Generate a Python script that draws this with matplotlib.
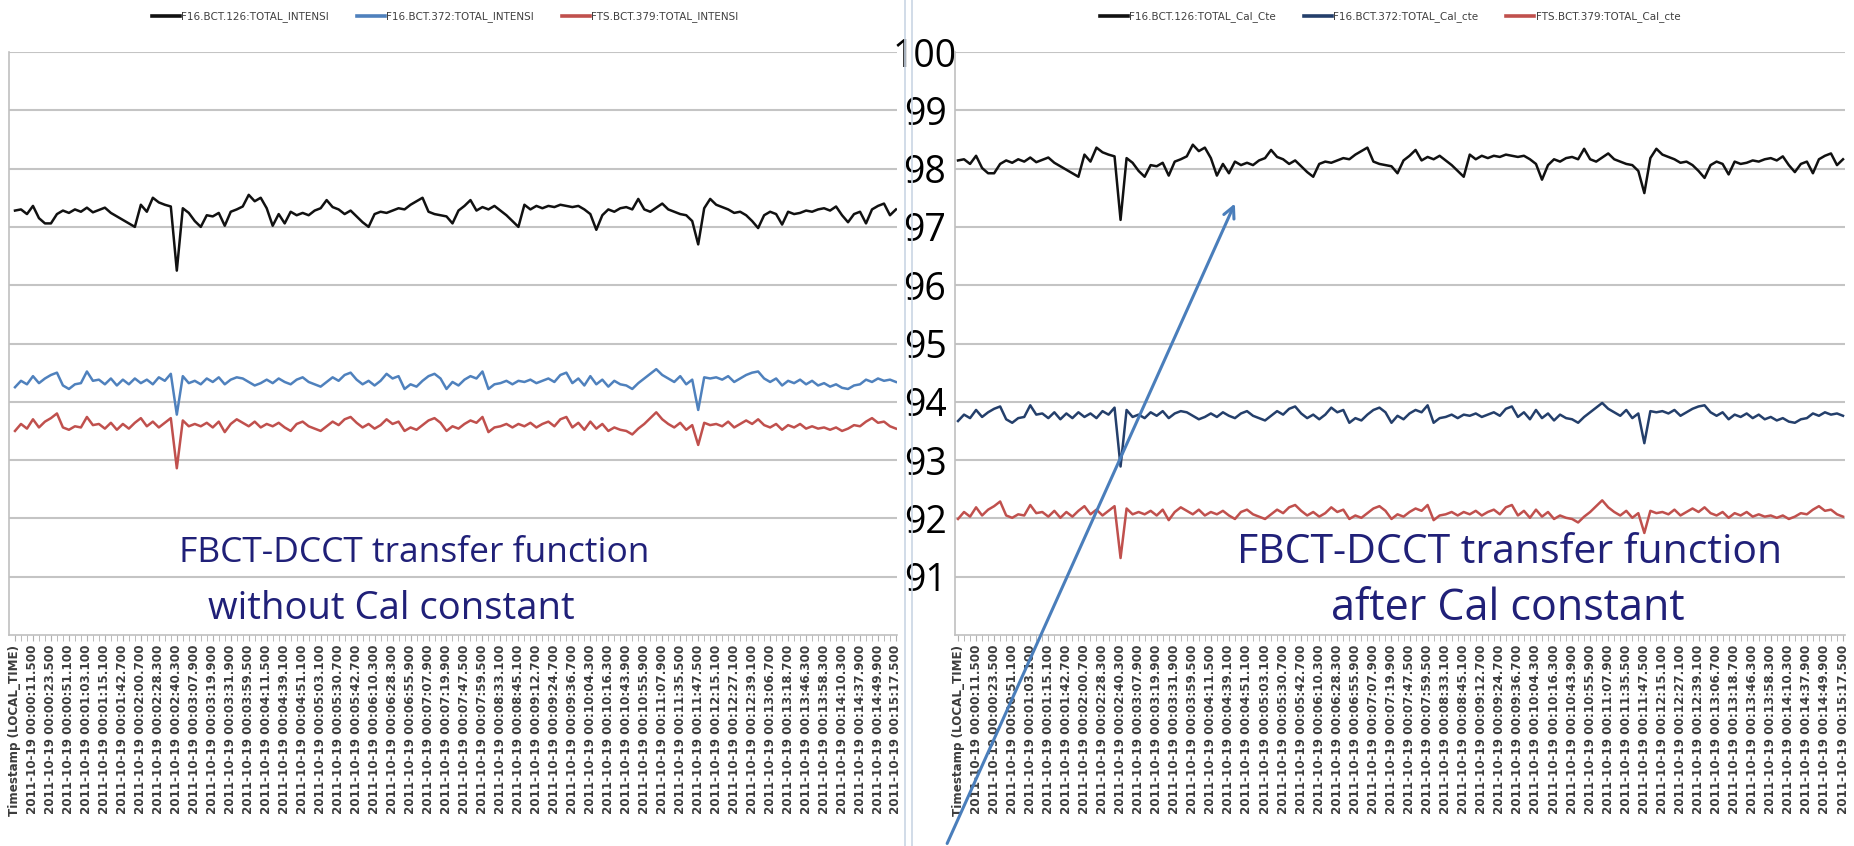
import matplotlib
matplotlib.use("Agg")
import matplotlib.pyplot as plt
from matplotlib.lines import Line2D
from matplotlib.patches import FancyArrowPatch

# ---- data ----
times = ["00:00:11.5", "00:00:23.5", "00:00:51.1", "00:01:03.1", "00:01:15.1", "00:01:42.7",
         "00:02:00.7", "00:02:28.3", "00:02:40.3", "00:03:07.9", "00:03:19.9", "00:03:31.9",
         "00:03:59.5", "00:04:11.5", "00:04:39.1", "00:04:51.1", "00:05:03.1", "00:05:30.7",
         "00:05:42.7", "00:06:10.3", "00:06:28.3", "00:06:55.9", "00:07:07.9", "00:07:19.9",
         "00:07:47.5", "00:07:59.5", "00:08:33.1", "00:08:45.1", "00:09:12.7", "00:09:24.7",
         "00:09:36.7", "00:10:04.3", "00:10:16.3", "00:10:43.9", "00:10:55.9", "00:11:07.9",
         "00:11:35.5", "00:11:47.5", "00:12:15.1", "00:12:27.1", "00:12:39.1", "00:13:06.7",
         "00:13:18.7", "00:13:46.3", "00:13:58.3", "00:14:10.3", "00:14:37.9", "00:14:49.9",
         "00:15:17.5"]
tick_labels = ["Timestamp (LOCAL_TIME)"] + ["2011-10-19 " + t + "00" for t in times]
label_step = 3

left_names = ["F16.BCT.126:TOTAL_INTENSI", "F16.BCT.372:TOTAL_INTENSI", "FTS.BCT.379:TOTAL_INTENSI"]
right_names = ["F16.BCT.126:TOTAL_Cal_Cte", "F16.BCT.372:TOTAL_Cal_cte", "FTS.BCT.379:TOTAL_Cal_cte"]

left_black = [97.28, 97.30, 97.22, 97.36, 97.15, 97.06, 97.06, 97.22, 97.28, 97.24,
              97.30, 97.26, 97.33, 97.25, 97.29, 97.33, 97.24, 97.18, 97.12, 97.06,
              97.00, 97.38, 97.26, 97.50, 97.42, 97.38, 97.35, 96.25, 97.32, 97.24,
              97.10, 97.00, 97.20, 97.18, 97.24, 97.02, 97.26, 97.30, 97.35, 97.55,
              97.44, 97.50, 97.32, 97.02, 97.22, 97.06, 97.26, 97.20, 97.24, 97.20,
              97.28, 97.32, 97.46, 97.34, 97.30, 97.22, 97.28, 97.18, 97.08, 97.00,
              97.22, 97.26, 97.24, 97.28, 97.32, 97.30, 97.38, 97.44, 97.50, 97.26,
              97.22, 97.20, 97.18, 97.06, 97.28, 97.36, 97.46, 97.28, 97.34, 97.30,
              97.36, 97.28, 97.20, 97.10, 97.00, 97.38, 97.30, 97.36, 97.32, 97.36,
              97.34, 97.38, 97.36, 97.34, 97.36, 97.30, 97.22, 96.95, 97.20, 97.30,
              97.26, 97.32, 97.34, 97.30, 97.48, 97.30, 97.26, 97.33, 97.40, 97.30,
              97.26, 97.22, 97.20, 97.10, 96.70, 97.32, 97.48, 97.38, 97.34, 97.30,
              97.24, 97.26, 97.20, 97.10, 96.98, 97.20, 97.26, 97.22, 97.04, 97.26,
              97.22, 97.24, 97.28, 97.26, 97.30, 97.32, 97.28, 97.35, 97.20, 97.08,
              97.22, 97.26, 97.06, 97.30, 97.36, 97.40, 97.20, 97.30]

left_blue = [94.25, 94.36, 94.30, 94.44, 94.32, 94.40, 94.46, 94.50, 94.28, 94.22,
             94.30, 94.32, 94.52, 94.36, 94.38, 94.30, 94.40, 94.28, 94.38, 94.30,
             94.40, 94.32, 94.38, 94.30, 94.42, 94.36, 94.48, 93.78, 94.44, 94.32,
             94.36, 94.30, 94.40, 94.34, 94.42, 94.30, 94.38, 94.42, 94.40, 94.34,
             94.28, 94.32, 94.38, 94.32, 94.40, 94.34, 94.30, 94.38, 94.42, 94.34,
             94.30, 94.26, 94.34, 94.42, 94.36, 94.46, 94.50, 94.38, 94.30, 94.36,
             94.28, 94.36, 94.48, 94.40, 94.44, 94.22, 94.30, 94.26, 94.36, 94.44,
             94.48, 94.40, 94.22, 94.34, 94.28, 94.38, 94.44, 94.40, 94.52, 94.22,
             94.30, 94.32, 94.36, 94.30, 94.36, 94.34, 94.38, 94.32, 94.36, 94.40,
             94.34, 94.46, 94.50, 94.32, 94.40, 94.28, 94.44, 94.30, 94.38, 94.26,
             94.36, 94.30, 94.28, 94.22, 94.32, 94.40, 94.48, 94.56, 94.46, 94.40,
             94.34, 94.44, 94.30, 94.38, 93.86, 94.42, 94.40, 94.42, 94.38, 94.44,
             94.34, 94.40, 94.46, 94.50, 94.52, 94.40, 94.34, 94.40, 94.28, 94.36,
             94.32, 94.38, 94.30, 94.36, 94.28, 94.32, 94.26, 94.30, 94.24, 94.22,
             94.28, 94.30, 94.38, 94.34, 94.40, 94.36, 94.38, 94.34]

left_red = [93.50, 93.62, 93.54, 93.70, 93.56, 93.66, 93.72, 93.80, 93.56, 93.52,
            93.58, 93.56, 93.74, 93.60, 93.62, 93.54, 93.64, 93.52, 93.62, 93.54,
            93.64, 93.72, 93.58, 93.66, 93.56, 93.64, 93.72, 92.86, 93.68, 93.58,
            93.62, 93.58, 93.64, 93.56, 93.66, 93.48, 93.62, 93.70, 93.64, 93.58,
            93.66, 93.56, 93.62, 93.58, 93.64, 93.56, 93.50, 93.62, 93.66, 93.58,
            93.54, 93.50, 93.58, 93.66, 93.60, 93.70, 93.74, 93.64, 93.56, 93.62,
            93.54, 93.60, 93.70, 93.62, 93.66, 93.50, 93.56, 93.52, 93.60, 93.68,
            93.72, 93.64, 93.50, 93.58, 93.54, 93.62, 93.68, 93.64, 93.74, 93.48,
            93.56, 93.58, 93.62, 93.56, 93.62, 93.58, 93.64, 93.56, 93.62, 93.66,
            93.58, 93.70, 93.74, 93.56, 93.64, 93.52, 93.66, 93.54, 93.62, 93.50,
            93.56, 93.52, 93.50, 93.44, 93.54, 93.62, 93.72, 93.82, 93.70, 93.62,
            93.56, 93.64, 93.52, 93.60, 93.26, 93.64, 93.60, 93.62, 93.58, 93.66,
            93.56, 93.62, 93.68, 93.62, 93.70, 93.60, 93.56, 93.62, 93.52, 93.60,
            93.56, 93.62, 93.54, 93.58, 93.54, 93.56, 93.52, 93.56, 93.50, 93.54,
            93.60, 93.58, 93.66, 93.72, 93.64, 93.66, 93.58, 93.54]

right_black = [98.14, 98.16, 98.08, 98.22, 98.01, 97.92, 97.92, 98.08, 98.14, 98.10,
               98.16, 98.12, 98.19, 98.11, 98.15, 98.19, 98.10, 98.04, 97.98, 97.92,
               97.86, 98.24, 98.12, 98.36, 98.28, 98.24, 98.21, 97.12, 98.18, 98.10,
               97.96, 97.86, 98.06, 98.04, 98.10, 97.88, 98.12, 98.16, 98.21, 98.41,
               98.30, 98.36, 98.18, 97.88, 98.08, 97.92, 98.12, 98.06, 98.10, 98.06,
               98.14, 98.18, 98.32, 98.20, 98.16, 98.08, 98.14, 98.04, 97.94, 97.86,
               98.08, 98.12, 98.10, 98.14, 98.18, 98.16, 98.24, 98.30, 98.36, 98.12,
               98.08, 98.06, 98.04, 97.92, 98.14, 98.22, 98.32, 98.14, 98.20, 98.16,
               98.22, 98.14, 98.06, 97.96, 97.86, 98.24, 98.16, 98.22, 98.18, 98.22,
               98.20, 98.24, 98.22, 98.20, 98.22, 98.16, 98.08, 97.81, 98.06, 98.16,
               98.12, 98.18, 98.20, 98.16, 98.34, 98.16, 98.12, 98.19, 98.26, 98.16,
               98.12, 98.08, 98.06, 97.96, 97.58, 98.18, 98.34, 98.24, 98.20, 98.16,
               98.10, 98.12, 98.06, 97.96, 97.84, 98.06, 98.12, 98.08, 97.90, 98.12,
               98.08, 98.10, 98.14, 98.12, 98.16, 98.18, 98.14, 98.21, 98.06, 97.94,
               98.08, 98.12, 97.92, 98.16, 98.22, 98.26, 98.06, 98.16]

right_blue = [93.67, 93.78, 93.72, 93.86, 93.74, 93.82, 93.88, 93.92, 93.70, 93.64,
              93.72, 93.74, 93.94, 93.78, 93.80, 93.72, 93.82, 93.70, 93.80, 93.72,
              93.82, 93.74, 93.80, 93.72, 93.84, 93.78, 93.90, 92.89, 93.86, 93.74,
              93.78, 93.72, 93.82, 93.76, 93.84, 93.72, 93.80, 93.84, 93.82, 93.76,
              93.70, 93.74, 93.80, 93.74, 93.82, 93.76, 93.72, 93.80, 93.84, 93.76,
              93.72, 93.68, 93.76, 93.84, 93.78, 93.88, 93.92, 93.80, 93.72, 93.78,
              93.70, 93.78, 93.90, 93.82, 93.86, 93.64, 93.72, 93.68, 93.78, 93.86,
              93.90, 93.82, 93.64, 93.76, 93.70, 93.80, 93.86, 93.82, 93.94, 93.64,
              93.72, 93.74, 93.78, 93.72, 93.78, 93.76, 93.80, 93.74, 93.78, 93.82,
              93.76, 93.88, 93.92, 93.74, 93.82, 93.70, 93.86, 93.72, 93.80, 93.68,
              93.78, 93.72, 93.70, 93.64, 93.74, 93.82, 93.90, 93.98, 93.88, 93.82,
              93.76, 93.86, 93.72, 93.80, 93.29, 93.84, 93.82, 93.84, 93.80, 93.86,
              93.76, 93.82, 93.88, 93.92, 93.94, 93.82, 93.76, 93.82, 93.70, 93.78,
              93.74, 93.80, 93.72, 93.78, 93.70, 93.74, 93.68, 93.72, 93.66, 93.64,
              93.70, 93.72, 93.80, 93.76, 93.82, 93.78, 93.80, 93.76]

right_red = [91.99, 92.11, 92.03, 92.19, 92.05, 92.15, 92.21, 92.29, 92.05, 92.01,
             92.07, 92.05, 92.23, 92.09, 92.11, 92.03, 92.13, 92.01, 92.11, 92.03,
             92.13, 92.21, 92.07, 92.15, 92.05, 92.13, 92.21, 91.32, 92.17, 92.07,
             92.11, 92.07, 92.13, 92.05, 92.15, 91.97, 92.11, 92.19, 92.13, 92.07,
             92.15, 92.05, 92.11, 92.07, 92.13, 92.05, 91.99, 92.11, 92.15, 92.07,
             92.03, 91.99, 92.07, 92.15, 92.09, 92.19, 92.23, 92.13, 92.05, 92.11,
             92.03, 92.09, 92.19, 92.11, 92.15, 91.99, 92.05, 92.01, 92.09, 92.17,
             92.21, 92.13, 91.99, 92.07, 92.03, 92.11, 92.17, 92.13, 92.23, 91.97,
             92.05, 92.07, 92.11, 92.05, 92.11, 92.07, 92.13, 92.05, 92.11, 92.15,
             92.07, 92.19, 92.23, 92.05, 92.13, 92.01, 92.15, 92.03, 92.11, 91.99,
             92.05, 92.01, 91.99, 91.93, 92.03, 92.11, 92.21, 92.31, 92.19, 92.11,
             92.05, 92.13, 92.01, 92.09, 91.75, 92.13, 92.09, 92.11, 92.07, 92.15,
             92.05, 92.11, 92.17, 92.11, 92.19, 92.09, 92.05, 92.11, 92.01, 92.09,
             92.05, 92.11, 92.03, 92.07, 92.03, 92.05, 92.01, 92.05, 91.99, 92.03,
             92.09, 92.07, 92.15, 92.21, 92.13, 92.15, 92.07, 92.03]

y_ticks = list(range(91, 101))

W, H = 1854, 846
fig = plt.figure(figsize=(W / 100, H / 100), dpi=100)
fig.patch.set_facecolor("white")


def px_axes(x0, x1, y0, y1):
    # axes from pixel box (top-left origin)
    return fig.add_axes([x0 / W, 1 - y1 / H, (x1 - x0) / W, (y1 - y0) / H])


def style_axes(ax, xlim):
    n = len(left_black)
    ax.set_xlim(*xlim)
    ax.set_ylim(90, 100)
    ax.set_yticks(y_ticks)
    ax.yaxis.grid(True, color="#c4c4c4", lw=1.5)
    ax.set_axisbelow(True)
    for s in ["top", "right"]:
        ax.spines[s].set_visible(False)
    for s in ["left", "bottom"]:
        ax.spines[s].set_color("#c0c0c0")
        ax.spines[s].set_linewidth(1.2)
    idx = list(range(0, n, label_step))
    ax.set_xticks(idx)
    ax.set_xticklabels(tick_labels, rotation=90, fontsize=8.6, fontweight="bold",
                       color="#3c3c3c")
    ax.set_xticks(range(n), minor=True)
    ax.tick_params(axis="x", which="both", length=4, color="#b0b0b0", pad=3)


x = list(range(len(left_black)))
leg_kw = dict(loc="center", ncol=3, frameon=False, fontsize=7.5, handlelength=2.7,
              handletextpad=0.1, columnspacing=2.7, labelcolor="#404040")

# left chart: without calibration constant
ax1 = px_axes(9, 897, 52, 635)
style_axes(ax1, (-1.0, 147.17))
ax1.tick_params(axis="y", length=0, labelleft=False)
h1 = ax1.plot(x, left_black, color="#111111", lw=1.8)[0]
h2 = ax1.plot(x, left_blue, color="#4f81bd", lw=1.8)[0]
h3 = ax1.plot(x, left_red, color="#c0504d", lw=1.8)[0]
leg = ax1.legend([h1, h2, h3], left_names, bbox_to_anchor=(445 / W, 1 - 17 / H),
                 bbox_transform=fig.transFigure, **leg_kw)
for ln in leg.get_lines():
    ln.set_linewidth(2.6)

# right chart: after calibration constant
ax2 = px_axes(955, 1845, 52, 635)
style_axes(ax2, (-0.5, 147.33))
ax2.set_yticklabels([str(v) for v in y_ticks], fontsize=27, family="Open Sans")
ax2.tick_params(axis="y", length=0, pad=21.6)
for lab in ax2.get_yticklabels():
    lab.set_horizontalalignment("center")
g1 = ax2.plot(x, right_black, color="#111111", lw=1.8)[0]
g2 = ax2.plot(x, right_blue, color="#243f6b", lw=1.8)[0]
g3 = ax2.plot(x, right_red, color="#c0504d", lw=1.8)[0]
leg = ax2.legend([g1, g2, g3], right_names, bbox_to_anchor=(1390 / W, 1 - 17 / H),
                 bbox_transform=fig.transFigure, **leg_kw)
for ln in leg.get_lines():
    ln.set_linewidth(2.6)

# separators between the two pasted charts
for xs in (905, 912):
    fig.add_artist(Line2D([xs / W, xs / W], [0, 1], transform=fig.transFigure,
                          color="#c9d5e4", lw=1.2))

# annotations
navy = "#202078"
fig.text(414 / W, 1 - 553 / H, "FBCT-DCCT transfer function", color=navy,
         fontsize=25.5, family="Open Sans", ha="center", va="center")
fig.text(391 / W, 1 - 609 / H, "without Cal constant", color=navy,
         fontsize=27.5, family="Open Sans", ha="center", va="center")
fig.text(1510 / W, 1 - 553 / H, "FBCT-DCCT transfer function", color=navy,
         fontsize=29.5, family="Open Sans", ha="center", va="center")
fig.text(1508 / W, 1 - 609 / H, "after Cal constant", color=navy,
         fontsize=31, family="Open Sans", ha="center", va="center")

arrow = FancyArrowPatch((946 / W, 0.0), (1236 / W, 1 - 201 / H),
                        transform=fig.transFigure,
                        arrowstyle="->,head_length=8,head_width=4",
                        color="#4a7ebb", lw=2.2)
fig.add_artist(arrow)

fig.savefig("out.png", dpi=100)
